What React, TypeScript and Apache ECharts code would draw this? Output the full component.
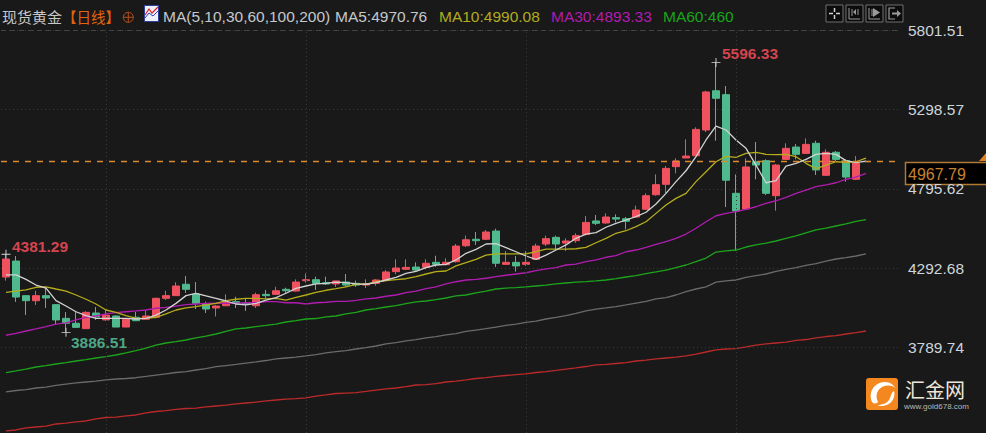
import { useEffect, useRef } from 'react';
import * as echarts from 'echarts';

// open, close, low, high
const candles: number[][] = [
  [4237, 4351, 4214, 4381.29], [4338, 4110, 4079, 4370], [4119, 4087, 3996, 4119], [4087, 4119, 4060, 4150],
  [4119, 4104, 4041, 4175], [4062, 3965, 3933, 4065], [3975, 3944, 3886.51, 4015], [3944, 3918, 3914, 4015],
  [3910, 4013, 3908, 4020], [4009, 3984, 3965, 4047], [3965, 3996, 3960, 4028], [3990, 3920, 3920, 3996],
  [3920, 3969, 3920, 3977], [3982, 3960, 3960, 4017], [3969, 3990, 3969, 4028], [3982, 4102, 3975, 4106],
  [4102, 4119, 4091, 4150], [4119, 4180, 4119, 4203], [4191, 4159, 4136, 4243], [4129, 4070, 4034, 4205],
  [4066, 4034, 4009, 4081], [4041, 4053, 3987, 4060], [4055, 4077, 4053, 4127], [4081, 4072, 4041, 4112],
  [4070, 4066, 4022, 4098], [4055, 4125, 4041, 4138], [4127, 4119, 4104, 4155], [4127, 4150, 4123, 4175],
  [4159, 4150, 4136, 4169], [4148, 4205, 4144, 4222], [4214, 4220, 4201, 4260], [4220, 4197, 4155, 4239],
  [4201, 4193, 4186, 4239], [4193, 4212, 4174, 4214], [4205, 4186, 4175, 4256], [4197, 4186, 4174, 4214],
  [4186, 4193, 4167, 4222], [4197, 4218, 4182, 4224], [4214, 4269, 4212, 4281], [4271, 4294, 4254, 4349],
  [4286, 4298, 4281, 4349], [4300, 4281, 4271, 4330], [4298, 4324, 4286, 4349], [4330, 4317, 4302, 4372],
  [4315, 4330, 4311, 4355], [4334, 4433, 4328, 4446], [4435, 4473, 4427, 4499], [4476, 4467, 4440, 4522],
  [4476, 4522, 4471, 4535], [4528, 4324, 4300, 4543], [4317, 4330, 4315, 4402], [4330, 4307, 4271, 4370],
  [4317, 4330, 4307, 4402], [4349, 4433, 4345, 4448], [4446, 4480, 4433, 4499], [4488, 4446, 4408, 4499],
  [4452, 4465, 4402, 4482], [4467, 4499, 4454, 4514], [4507, 4583, 4501, 4623], [4592, 4577, 4566, 4630],
  [4579, 4617, 4575, 4640], [4613, 4604, 4583, 4634], [4606, 4590, 4539, 4617], [4617, 4661, 4615, 4689],
  [4666, 4752, 4661, 4767], [4758, 4822, 4752, 4887], [4824, 4925, 4767, 4940], [4936, 4972, 4894, 4989],
  [4991, 5003, 4989, 5109], [5005, 5172, 5003, 5185], [5168, 5409, 5155, 5417], [5417, 5369, 5100, 5596.33],
  [5392, 4850, 4680, 5447], [4767, 4655, 4402, 4887], [4668, 4934, 4666, 4989], [4967, 4946, 4856, 5092],
  [4974, 4767, 4756, 4982], [4752, 4946, 4657, 4953], [4982, 5052, 4978, 5084], [5060, 5014, 4982, 5079],
  [5020, 5077, 5016, 5115], [5084, 4915, 4883, 5100], [4881, 5027, 4877, 5046], [5027, 4982, 4972, 5035],
  [4974, 4870, 4841, 4982], [4856, 4959, 4851, 5003], [4969, 4967.79, 4965, 4971],
];

const ma5 = [
  4250, 4250, 4222, 4186, 4167, 4087, 4053, 4017, 3992, 3975, 3975, 3975, 3975, 3971, 3975, 3996, 4028, 4070, 4119, 4134,
  4117, 4102, 4085, 4066, 4060, 4070, 4091, 4106, 4134, 4165, 4180, 4193, 4197, 4205, 4201, 4193, 4191, 4201, 4218, 4235,
  4260, 4273, 4297, 4313, 4317, 4345, 4387, 4412, 4446, 4448, 4423, 4397, 4370, 4349, 4376, 4408, 4440, 4482, 4509, 4518,
  4552, 4577, 4598, 4619, 4647, 4699, 4767, 4841, 4910, 4999, 5105, 5193, 5168, 5105, 5052, 4946, 4834, 4847, 4940, 4957,
  4982, 5014, 5020, 5014, 4974, 4961, 4970.76,
];
const ma10 = [
  4140, 4148, 4155, 4172, 4175, 4161, 4148, 4123, 4096, 4066, 4028, 4013, 3992, 3975, 3975, 3982, 4003, 4028, 4042, 4049,
  4060, 4070, 4087, 4096, 4102, 4102, 4098, 4102, 4091, 4108, 4123, 4140, 4153, 4163, 4175, 4191, 4191, 4207, 4214, 4220,
  4226, 4239, 4256, 4271, 4275, 4307, 4328, 4349, 4376, 4383, 4383, 4383, 4383, 4397, 4414, 4414, 4414, 4416, 4425, 4454,
  4482, 4514, 4530, 4556, 4587, 4640, 4693, 4735, 4767, 4841, 4904, 4967, 5001, 4995, 5020, 5027, 5014, 5012, 5014, 4999,
  4957, 4923, 4946, 4967, 4963, 4967, 4990.08,
];
const ma30 = [
  3868, 3880, 3895, 3908, 3922, 3939, 3947, 3965, 3982, 3990, 4003, 4011, 4017, 4022, 4028, 4039, 4045, 4053, 4062, 4066,
  4070, 4072, 4070, 4072, 4074, 4074, 4081, 4081, 4074, 4074, 4066, 4074, 4077, 4083, 4083, 4089, 4098, 4104, 4115, 4123,
  4138, 4148, 4163, 4175, 4193, 4207, 4218, 4222, 4229, 4239, 4248, 4256, 4264, 4277, 4288, 4296, 4313, 4319, 4334, 4345,
  4362, 4372, 4397, 4408, 4425, 4444, 4461, 4482, 4509, 4546, 4587, 4625, 4640, 4651, 4666, 4682, 4704, 4720, 4742, 4767,
  4788, 4809, 4820, 4834, 4856, 4869, 4893.33,
];
const ma60 = [
  3632, 3642, 3654, 3667, 3676, 3686, 3695, 3705, 3714, 3724, 3733, 3743, 3756, 3771, 3787, 3806, 3819, 3828, 3838, 3851,
  3863, 3876, 3892, 3908, 3914, 3923, 3930, 3939, 3952, 3961, 3971, 3974, 3984, 3990, 4003, 4013, 4028, 4037, 4047, 4056,
  4069, 4079, 4085, 4094, 4104, 4117, 4123, 4136, 4148, 4161, 4167, 4170, 4174, 4180, 4186, 4193, 4199, 4205, 4208, 4212,
  4218, 4227, 4237, 4246, 4259, 4269, 4281, 4297, 4313, 4335, 4357, 4395, 4402, 4408, 4427, 4440, 4452, 4465, 4481, 4497,
  4516, 4535, 4547, 4560, 4573, 4589, 4601,
];
const ma100 = [
  3510, 3518, 3524, 3534, 3540, 3550, 3559, 3566, 3572, 3578, 3585, 3591, 3594, 3599, 3607, 3616, 3624, 3632, 3638, 3648,
  3657, 3669, 3676, 3683, 3692, 3699, 3708, 3718, 3724, 3730, 3737, 3746, 3756, 3764, 3771, 3781, 3790, 3800, 3813, 3822,
  3832, 3841, 3851, 3860, 3870, 3879, 3892, 3901, 3910, 3920, 3930, 3939, 3949, 3958, 3971, 3981, 3993, 4006, 4022, 4034,
  4041, 4050, 4060, 4072, 4082, 4098, 4107, 4123, 4145, 4161, 4175, 4205, 4212, 4218, 4234, 4246, 4256, 4272, 4285, 4297,
  4310, 4322, 4338, 4351, 4360, 4370, 4383,
];
const ma200 = [
  3262, 3268, 3281, 3287, 3293, 3306, 3312, 3319, 3325, 3338, 3347, 3350, 3357, 3363, 3376, 3385, 3391, 3398, 3404, 3407,
  3414, 3420, 3426, 3433, 3439, 3445, 3452, 3458, 3464, 3467, 3471, 3483, 3490, 3499, 3502, 3505, 3512, 3521, 3528, 3534,
  3543, 3553, 3555, 3562, 3572, 3578, 3585, 3594, 3600, 3607, 3613, 3619, 3623, 3632, 3638, 3645, 3654, 3661, 3670, 3680,
  3683, 3689, 3695, 3705, 3711, 3718, 3724, 3730, 3737, 3749, 3762, 3775, 3781, 3783, 3794, 3806, 3813, 3819, 3825, 3835,
  3841, 3851, 3860, 3866, 3876, 3885, 3895,
];

const priceTicks = [5801.51, 5298.57, 4795.62, 4292.68, 3789.74];
const lastPrice = 4967.79;
const monthStarts = [10, 30, 52, 73]; // candle index where a new month begins
const highLow = [
  { index: 0, value: 4381.29, color: '#d4444f', offset: [34, -8] },
  { index: 6, value: 3886.51, color: '#4fa587', offset: [33, 10] },
  { index: 71, value: 5596.33, color: '#d4444f', offset: [34, -9] },
];
const headerItems = [
  { text: 'MA(5,10,30,60,100,200)', x: 163, color: '#c4c8cc' },
  { text: 'MA5:4970.76', x: 335, color: '#c4c8cc' },
  { text: 'MA10:4990.08', x: 439, color: '#b0ac1e' },
  { text: 'MA30:4893.33', x: 551, color: '#b01cb0' },
  { text: 'MA60:460', x: 663, color: '#18a518' },
];

// 87 daily candles plus empty room on the right
const categories = Array.from({ length: 90 }, (_, i) => String(i));

const sans = '"Liberation Sans", Arial, sans-serif';
const cjk = '"Noto Sans CJK SC", sans-serif';
const iconGray = '#9a9a9a';

const swirl =
  'M6 24C2 14 8 5 18 4C24 3.5 28 7 29 10C26 7 21 7 17 8.5C11 11 9 18 12 24C10 26 8 26 6 24Z' +
  'M28 13C30 20 25 27 17 28C14 28 12 27.5 11 27C17 27 22 25 24 20C25 17 26 14 28 13Z';
echarts.graphic.registerShape('goldSwirl', echarts.graphic.extendPath(swirl as any, {}) as any);

function line(x1: number, y1: number, x2: number, y2: number, stroke: string, lineWidth = 1) {
  return { type: 'line', shape: { x1, y1, x2, y2 }, style: { stroke, lineWidth } };
}

function maLine(name: string, data: number[], color: string, extra = {}) {
  return {
    name,
    type: 'line',
    data,
    symbol: 'none',
    smooth: false,
    silent: true,
    lineStyle: { color, width: 1.3 },
    ...extra,
  };
}

function toolbarIcons() {
  const out: any[] = [];
  [826, 846, 866, 886].forEach((x) => {
    out.push({
      type: 'rect',
      shape: { x, y: 5, width: 17, height: 17 },
      style: { fill: '#0c0c0c', stroke: '#6e6e6e', lineWidth: 1 },
    });
  });
  // crosshair
  out.push(line(829, 13.5, 833, 13.5, '#d0d0d0', 1.5), line(836, 13.5, 840, 13.5, '#d0d0d0', 1.5));
  out.push(line(834.5, 8, 834.5, 12, '#d0d0d0', 1.5), line(834.5, 15, 834.5, 19, '#d0d0d0', 1.5));
  // zoom out
  out.push(line(849, 8, 849, 19, iconGray), line(849, 19, 860, 19, iconGray), line(852, 9, 852, 16, iconGray));
  out.push({ type: 'polygon', shape: { points: [[853, 12], [856, 9], [856, 15]] }, style: { fill: iconGray } });
  out.push(line(858, 9, 858, 15, iconGray));
  // zoom in
  out.push(line(869, 8, 869, 19, iconGray), line(869, 19, 880, 19, iconGray), line(872, 9, 872, 16, iconGray));
  out.push({ type: 'polygon', shape: { points: [[873, 8], [880, 12.5], [873, 17]] }, style: { fill: iconGray } });
  // step out
  out.push({
    type: 'polyline',
    shape: { points: [[895, 8], [889, 8], [889, 19], [895, 19]] },
    style: { stroke: iconGray, fill: 'none', lineWidth: 1.2 },
  });
  out.push(line(892, 13.5, 897, 13.5, iconGray, 2));
  out.push({ type: 'polygon', shape: { points: [[897, 10], [901, 13.5], [897, 17]] }, style: { fill: iconGray } });
  return out;
}

function graphics() {
  return [
    // header
    { type: 'text', x: 2, y: 16, style: { text: '现货黄金', fill: '#c8c8c8', font: `15px ${cjk}`, verticalAlign: 'middle' } },
    { type: 'text', x: 62, y: 16, style: { text: '【日线】', fill: '#e0650f', font: `14.5px ${cjk}`, verticalAlign: 'middle' } },
    { type: 'circle', shape: { cx: 128.3, cy: 17.3, r: 5 }, style: { fill: 'none', stroke: '#b84e12', lineWidth: 1 } },
    line(123, 17.3, 133.5, 17.3, '#b84e12'),
    line(128.3, 12, 128.3, 22.5, '#b84e12'),
    { type: 'rect', shape: { x: 144.5, y: 5.5, width: 14, height: 16 }, style: { fill: '#eef0f8', stroke: '#2f3f9f', lineWidth: 1 } },
    { type: 'polyline', shape: { points: [[145, 15], [149, 9], [152, 13], [158, 7]] }, style: { stroke: '#e02020', fill: 'none', lineWidth: 1.2 } },
    { type: 'polyline', shape: { points: [[145, 18], [149, 13], [153, 16], [158, 11]] }, style: { stroke: '#3040c0', fill: 'none', lineWidth: 1 } },
    ...headerItems.map((h) => ({
      type: 'text',
      x: h.x,
      y: 16,
      style: { text: h.text, fill: h.color, font: `15.5px ${sans}`, verticalAlign: 'middle' },
    })),
    ...toolbarIcons(),
    // last price box
    { type: 'rect', shape: { x: 905.5, y: 162.5, width: 82, height: 22 }, style: { fill: '#000000', stroke: '#b07a35', lineWidth: 1.5 } },
    { type: 'polygon', shape: { points: [[979, 161], [986, 153], [986, 161]] }, style: { fill: '#df7f1f' } },
    { type: 'text', x: 908, y: 174, style: { text: lastPrice.toFixed(2), fill: '#c8822f', font: `16px ${sans}`, verticalAlign: 'middle' } },
    // logo
    { type: 'rect', shape: { x: 866, y: 378, width: 32, height: 32, r: 3 }, style: { fill: '#f5871f' } },
    { type: 'goldSwirl', x: 866, y: 378, style: { fill: '#ffffff' } },
    { type: 'text', x: 905, y: 389.5, style: { text: '汇金网', fill: '#efe7da', font: `20px ${cjk}`, verticalAlign: 'middle' } },
    { type: 'text', x: 904, y: 406.5, style: { text: 'www.gold678.com', fill: '#b8b8b8', font: `8px ${sans}`, verticalAlign: 'middle' } },
  ];
}

export default function App() {
  const chartRef = useRef<HTMLDivElement>(null);

  useEffect(() => {
    document.body.style.margin = '0';
    if (!chartRef.current) return;
    const chart = echarts.init(chartRef.current, undefined, { renderer: 'svg' });

    const option: any = {
      animation: false,
      backgroundColor: '#191919',
      grid: { left: 1, top: 30, width: 900, height: 403 },
      xAxis: {
        type: 'category',
        data: categories,
        axisLine: { show: false },
        axisTick: { show: false },
        axisLabel: { show: false },
        splitLine: { show: false },
      },
      yAxis: {
        type: 'value',
        position: 'right',
        min: 3248.9,
        max: 5801.51,
        axisLine: { show: false },
        axisTick: { show: false, customValues: priceTicks },
        axisLabel: {
          customValues: priceTicks,
          margin: 7,
          color: '#cdd5dc',
          fontFamily: sans,
          fontSize: 15.5,
          formatter: (v: number) => v.toFixed(2),
        },
        splitLine: { show: true, lineStyle: { color: '#3a3a3a', type: [1, 3], width: 1 } },
      },
      series: [
        {
          name: 'K',
          type: 'candlestick',
          data: candles,
          barWidth: 8,
          silent: true,
          itemStyle: {
            color: '#f0515f',
            color0: '#4fba8d',
            borderColor: '#f0515f',
            borderColor0: '#4fba8d',
            borderWidth: 1,
          },
          markPoint: {
            silent: true,
            symbol: 'path://M0 4.5H10V5.5H0ZM4.5 0H5.5V10H4.5Z',
            symbolSize: 9,
            itemStyle: { color: '#d8d8d8' },
            data: highLow.map((p) => ({
              coord: [categories[p.index], p.value],
              value: p.value,
              label: {
                show: true,
                position: 'inside',
                offset: p.offset,
                color: p.color,
                fontFamily: sans,
                fontSize: 15.5,
                fontWeight: 'bold',
                formatter: p.value.toFixed(2),
              },
            })),
          },
          markLine: {
            silent: true,
            symbol: 'none',
            label: { show: false },
            data: [
              ...monthStarts.map((i) => ({
                xAxis: categories[i],
                lineStyle: { color: '#3a3a3a', type: [1, 3], width: 1 },
              })),
              { yAxis: priceTicks[0], lineStyle: { color: '#444444', type: [5, 4], width: 1 } },
            ],
          },
        },
        maLine('MA200', ma200, '#bb2a2a'),
        maLine('MA100', ma100, '#6a6a6a'),
        maLine('MA60', ma60, '#1ca51c'),
        maLine('MA30', ma30, '#b01cb0'),
        maLine('MA10', ma10, '#b5ad1c'),
        maLine('MA5', ma5, '#d2d2d2', {
          markLine: {
            silent: true,
            symbol: 'none',
            label: { show: false },
            data: [{ yAxis: lastPrice, lineStyle: { color: '#d98a2e', type: [6, 6], width: 1.3 } }],
          },
        }),
      ],
      graphic: { elements: graphics() },
    };

    chart.setOption(option);
    return () => chart.dispose();
  }, []);

  return <div ref={chartRef} style={{ width: 986, height: 433 }} />;
}
